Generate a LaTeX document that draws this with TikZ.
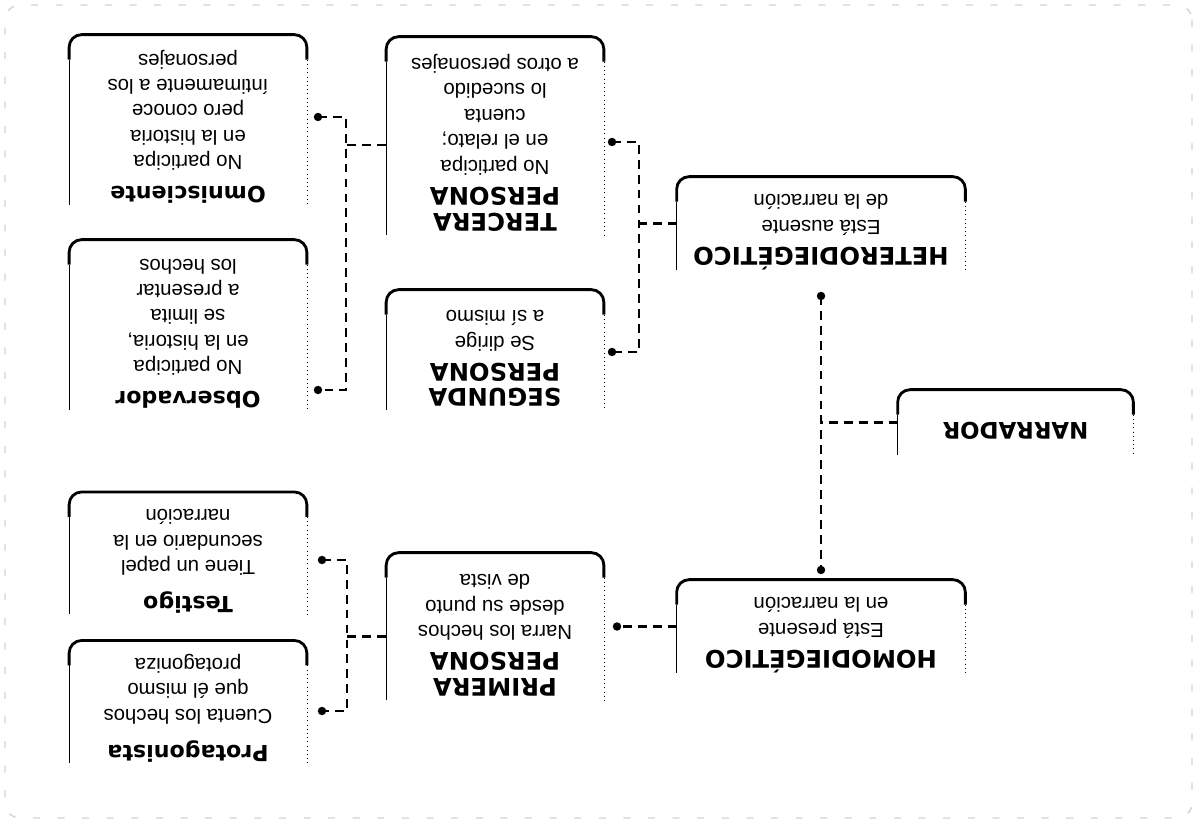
\documentclass[tikz,border=0pt]{standalone}
\usepackage{fontspec}
\setmainfont{Liberation Sans}
\newfontfamily\headfont{DejaVu Sans}
\newcommand{\ttl}[2][13.8]{{\headfont\bfseries\fontsize{#1}{15}\selectfont #2}}
% open card: thick rounded base, dotted left side, thin right side
\newcommand{\cardframe}[1]{%
  \draw[line width=1.6pt, rounded corners=2.5mm]
    ([yshift=5mm]#1.south west) -- (#1.south west) -- (#1.south east) -- ([yshift=5mm]#1.south east);
  \draw[thin, dotted] ([yshift=5mm]#1.south west) -- (#1.north west);
  \draw[thin] ([yshift=5mm]#1.south east) -- (#1.north east);
}
\tikzset{
  card/.style={rectangle, inner sep=0pt, align=center, text depth=10pt,
    font=\fontsize{11.6}{14.5}\selectfont},
  col2/.style={card, minimum width=57.6mm},
  col3/.style={card, minimum width=43.4mm},
  col4/.style={card, minimum width=47.4mm},
  link/.style={line width=1.5pt, dash pattern=on 5pt off 3.5pt},
  scanmark/.style={gray!35, line width=0.8pt, dash pattern=on 4pt off 10pt, rounded corners=3mm}
}
\begin{document}
\begin{tikzpicture}[x=0.2mm, y=0.2mm]
\useasboundingbox (0,0) rectangle (1197,828);
\begin{scope}[rotate around={180:(598.5,414)}, transform shape]
  \draw[scanmark] (5,5) rectangle (1192,818);

  % first level
  \node[card, minimum width=47mm, minimum height=13mm] (narr) at (181.5,422.5) {\ttl[13]{NARRADOR}};
  \node[col2, minimum height=18.6mm] (het) at (376,223.5)
    {\ttl{HETERODIEGÉTICO}\\[1pt]Está ausente\\de la narración};
  \node[col2, minimum height=18.6mm] (hom) at (376,626.5)
    {\ttl{HOMODIEGÉTICO}\\[1pt]Está presente\\en la narración};

  % persons
  \node[col3, minimum height=39.6mm] (terc) at (702,136)
    {\ttl{TERCERA}\\\ttl{PERSONA}\\[1pt]No participa\\en el relato;\\cuenta\\lo sucedido\\a otros personajes};
  \node[col3, minimum height=24mm] (seg) at (702,350)
    {\ttl{SEGUNDA}\\\ttl{PERSONA}\\[1pt]Se dirige\\a sí mismo};
  \node[col3, minimum height=29.4mm] (prim) at (702,626.5)
    {\ttl{PRIMERA}\\\ttl{PERSONA}\\[1pt]Narra los hechos\\desde su punto\\de vista};

  % kinds
  \node[col4, minimum height=34mm] (omni) at (1009,120)
    {\ttl[12.6]{Omnisciente}\\[3pt]No participa\\en la historia\\pero conoce\\íntimamente a los\\personajes};
  \node[col4, minimum height=34mm] (obs) at (1009,325)
    {\ttl[12.6]{Observador}\\[3pt]No participa\\en la historia,\\se limita\\a presentar\\los hechos};
  \node[col4, minimum height=24mm] (test) at (1009,553)
    {\ttl[12.6]{Testigo}\\[6pt]Tiene un papel\\secundario en la\\narración};
  \node[col4, minimum height=23.4mm] (prot) at (1009,701.5)
    {\ttl[12.6]{Protagonista}\\[6pt]Cuenta los hechos\\que él mismo\\protagoniza};

  \foreach \n in {narr,het,hom,terc,seg,prim,omni,obs,test,prot}{
    \cardframe{\n}
  }

  % connectors
  \coordinate (dhet) at (376,296);
  \coordinate (dhom) at (376,570);
  \coordinate (dterc) at (585,142);
  \coordinate (dseg) at (585,352);
  \coordinate (dprim) at (580,626.5);
  \coordinate (domni) at (879,117);
  \coordinate (dobs) at (879,390);
  \coordinate (dtest) at (875,560);
  \coordinate (dprot) at (875,711);

  \draw[link] (dhet) -- (dhom);
  \draw[link] (narr.east) -- (narr.east -| dhet);
  \draw[link] (het.east) -- ++(38,0);
  \draw[link] (dterc) -- ++(-27,0) |- (dseg);
  \draw[link] (hom.east) -- (dprim);
  \draw[link] ([yshift=1.8mm]terc.east) -- ++(40,0);
  \draw[link] (domni) -- ++(-28,0) |- (dobs);
  \draw[link] ([yshift=2mm]prim.east) -- ++(40,0);
  \draw[link] (dtest) -- ++(-25,0) |- (dprot);

  \foreach \d in {dhet,dhom,dterc,dseg,dprim,domni,dobs,dtest,dprot}
    \fill (\d) circle (2.4pt);
\end{scope}
\end{tikzpicture}
\end{document}
